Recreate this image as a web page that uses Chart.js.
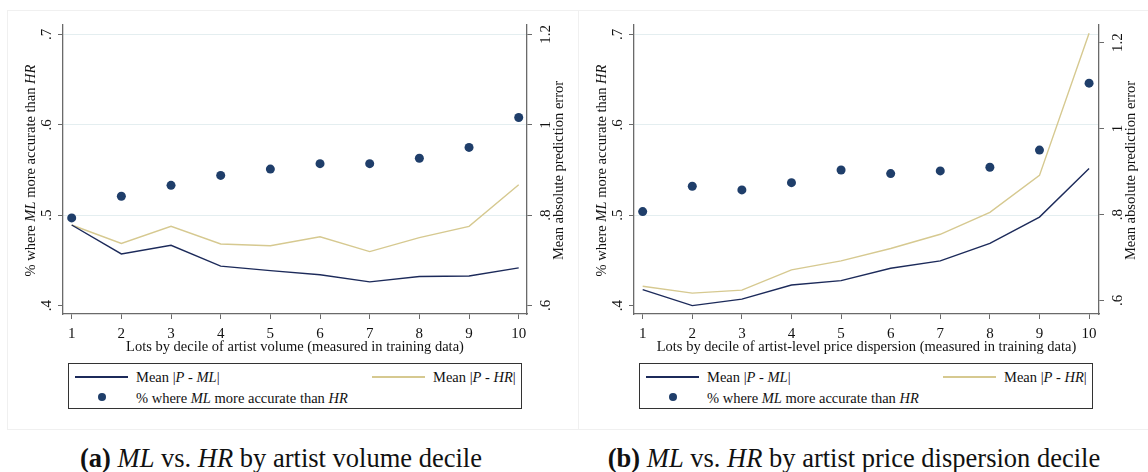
<!DOCTYPE html>
<html>
<head>
<meta charset="utf-8">
<script src="https://cdn.jsdelivr.net/npm/chart.js@4.4.1/dist/chart.umd.min.js"></script>
<style>
  body { margin: 0; background: #fff; width: 1148px; height: 472px; position: relative; overflow: hidden; font-family: 'Liberation Serif', 'Times New Roman', serif; }
  .frame { position: absolute; border: 1px solid #f0f0f0; box-sizing: border-box; }
  .panel { position: absolute; }
  .legend { position: absolute; border: 1px solid #333; box-sizing: border-box; width: 454px; height: 46px; font-size: 14.5px; color: #111; }
  .legend .sample { position: absolute; height: 2px; width: 53px; }
  .legend .dot { position: absolute; width: 8px; height: 8px; border-radius: 50%; background: #1f3e6a; }
  .legend .txt { position: absolute; line-height: 18px; white-space: nowrap; }
  .caption { position: absolute; top: 442px; font-size: 26.5px; line-height: 32px; color: #111; white-space: nowrap; text-align: center; }
  i { font-style: italic; }
</style>
</head>
<body>
<div class="frame" style="left:7px;top:10px;width:572px;height:420px;"></div>
<div class="frame" style="left:578px;top:10px;width:575px;height:420px;"></div>

<div class="panel" style="left:7px;top:10px;"><canvas id="chartVolume" width="571" height="350"></canvas></div>
<div class="panel" style="left:578px;top:10px;"><canvas id="chartDispersion" width="570" height="350"></canvas></div>

<div class="legend" style="left:68px;top:363px;">
  <div class="sample" style="left:6px;top:12px;background:#1c2a5a;"></div>
  <div class="txt" style="left:67px;top:4px;">Mean |<i>P</i> - <i>ML</i>|</div>
  <div class="sample" style="left:303px;top:12px;background:#d6c990;"></div>
  <div class="txt" style="left:364px;top:4px;">Mean |<i>P</i> - <i>HR</i>|</div>
  <div class="dot" style="left:29px;top:29px;"></div>
  <div class="txt" style="left:67px;top:25px;">% where <i>ML</i> more accurate than <i>HR</i></div>
</div>
<div class="legend" style="left:639px;top:363px;">
  <div class="sample" style="left:6px;top:12px;background:#1c2a5a;"></div>
  <div class="txt" style="left:67px;top:4px;">Mean |<i>P</i> - <i>ML</i>|</div>
  <div class="sample" style="left:303px;top:12px;background:#d6c990;"></div>
  <div class="txt" style="left:364px;top:4px;">Mean |<i>P</i> - <i>HR</i>|</div>
  <div class="dot" style="left:29px;top:29px;"></div>
  <div class="txt" style="left:67px;top:25px;">% where <i>ML</i> more accurate than <i>HR</i></div>
</div>

<div class="caption" style="left:31px;width:500px;"><b>(a)</b> <i>ML</i> vs. <i>HR</i> by artist volume decile</div>
<div class="caption" style="left:584px;width:540px;"><b>(b)</b> <i>ML</i> vs. <i>HR</i> by artist price dispersion decile</div>

<script>
// deciles on the x axis
const deciles = [1, 2, 3, 4, 5, 6, 7, 8, 9, 10];
const leftTicks = [0.4, 0.5, 0.6, 0.7];
const rightTicks = [0.6, 0.8, 1.0, 1.2];

// (a) by artist volume decile
const volumeShare = [0.497, 0.521, 0.533, 0.544, 0.551, 0.557, 0.557, 0.563, 0.575, 0.608];
const volumeML = [0.778, 0.714, 0.733, 0.687, 0.677, 0.668, 0.652, 0.664, 0.665, 0.683];
const volumeHR = [0.778, 0.737, 0.775, 0.736, 0.732, 0.752, 0.719, 0.750, 0.775, 0.867];

// (b) by artist price dispersion decile
const dispersionShare = [0.504, 0.532, 0.528, 0.536, 0.550, 0.546, 0.549, 0.553, 0.572, 0.646];
const dispersionML = [0.625, 0.588, 0.603, 0.636, 0.646, 0.675, 0.692, 0.733, 0.794, 0.907];
const dispersionHR = [0.633, 0.617, 0.624, 0.671, 0.692, 0.721, 0.754, 0.805, 0.891, 1.222];

const NAVY = '#1c2a5a';
const GOLD = '#d6c990';
const DOT = '#1f3e6a';
const AXIS = '#6a6a6a';
const GRID = '#e4eef0';
const FONT = "'Liberation Serif', 'Times New Roman', serif";

const leftTitle = [['% where ', 'normal'], ['ML', 'italic'], [' more accurate than ', 'normal'], ['HR', 'italic']];
const rightTitle = [['Mean absolute prediction error', 'normal']];

const fmt = v => {
    const s = String(Math.round(v * 10) / 10);
    return s.startsWith('0.') ? s.slice(1) : s;
};

// draws a rotated title with mixed italic parts, centred on (cx, cy)
function drawRich(ctx, parts, cx, cy) {
    ctx.save();
    ctx.translate(cx, cy);
    ctx.rotate(-Math.PI / 2);
    ctx.fillStyle = '#111';
    ctx.textBaseline = 'middle';
    let total = 0;
    parts.forEach(([t, st]) => { ctx.font = st + ' 14.5px ' + FONT; total += ctx.measureText(t).width; });
    let x = -total / 2;
    parts.forEach(([t, st]) => {
        ctx.font = st + ' 14.5px ' + FONT;
        ctx.fillText(t, x, 0);
        x += ctx.measureText(t).width;
    });
    ctx.restore();
}

const titlesPlugin = {
    id: 'titles',
    afterDraw: (chart) => {
        const a = chart.chartArea;
        const cy = (a.top + a.bottom) / 2 + 1;
        drawRich(chart.ctx, leftTitle, a.left - 32, cy);
        drawRich(chart.ctx, rightTitle, a.right + 32, cy);
    }
};

function makePanel(canvasId, share, ml, hr, opts) {
    const toPoints = vals => deciles.map((d, i) => ({ x: d, y: vals[i] }));
    const config = {
        type: 'line',
        data: {
            datasets: [
                { data: toPoints(share), yAxisID: 'y', showLine: false, pointRadius: 4.5, pointBorderWidth: 0, pointBackgroundColor: DOT, borderColor: DOT },
                { data: toPoints(ml), yAxisID: 'y2', borderColor: NAVY, borderWidth: 1.4, pointRadius: 0, tension: 0 },
                { data: toPoints(hr), yAxisID: 'y2', borderColor: GOLD, borderWidth: 1.4, pointRadius: 0, tension: 0 }
            ]
        },
        options: {
            responsive: false,
            animation: false,
            events: [],
            layout: { padding: { top: 15, left: 0, right: 0, bottom: 0 } },
            plugins: { legend: { display: false }, tooltip: { enabled: false } },
            scales: {
                x: {
                    type: 'linear', min: 0.825, max: opts.xMax,
                    afterBuildTicks: s => { s.ticks = deciles.map(v => ({ value: v })); },
                    afterFit: s => { s.height = 46; },
                    grid: { drawOnChartArea: false, tickLength: 5, tickColor: AXIS, tickWidth: 1 },
                    border: { color: AXIS, width: 1.3 },
                    ticks: { color: '#111', font: { family: FONT, size: 15 }, padding: 6, maxRotation: 0 },
                    title: { display: true, text: opts.xTitle, color: '#111', font: { family: FONT, size: 14.5 }, padding: { top: 0, bottom: 4 } }
                },
                y: {
                    position: 'left', min: 0.3908, max: 0.7103,
                    afterBuildTicks: s => { s.ticks = leftTicks.map(v => ({ value: v })); },
                    afterFit: s => { s.width = 56; },
                    grid: { color: c => c.tick && c.tick.value < 0.45 ? 'rgba(0,0,0,0)' : GRID, lineWidth: 1, tickLength: 5, tickColor: AXIS, tickWidth: 1 },
                    border: { color: AXIS, width: 1.3 },
                    ticks: { color: '#111', font: { family: FONT, size: 15 }, padding: 5, minRotation: 90, maxRotation: 90, crossAlign: 'center', callback: v => fmt(v) }
                },
                y2: {
                    position: 'right', min: opts.rMin, max: opts.rMax,
                    afterBuildTicks: s => { s.ticks = rightTicks.map(v => ({ value: v })); },
                    afterFit: s => { s.width = opts.rightWidth; },
                    grid: { drawOnChartArea: false, tickLength: 5, tickColor: AXIS, tickWidth: 1 },
                    border: { color: AXIS, width: 1.3 },
                    ticks: { color: '#111', font: { family: FONT, size: 15 }, padding: 5, minRotation: 90, maxRotation: 90, crossAlign: 'center', callback: v => fmt(v) }
                }
            }
        },
        plugins: [titlesPlugin]
    };
    return new Chart(document.getElementById(canvasId), config);
}

makePanel('chartVolume', volumeShare, volumeML, volumeHR, {
    xTitle: 'Lots by decile of artist volume (measured in training data)',
    xMax: 10.167, rMin: 0.581, rMax: 1.2206, rightWidth: 51
});
makePanel('chartDispersion', dispersionShare, dispersionML, dispersionHR, {
    xTitle: 'Lots by decile of artist-level price dispersion (measured in training data)',
    xMax: 10.2, rMin: 0.5684, rMax: 1.2412, rightWidth: 49
});
</script>
</body>
</html>
